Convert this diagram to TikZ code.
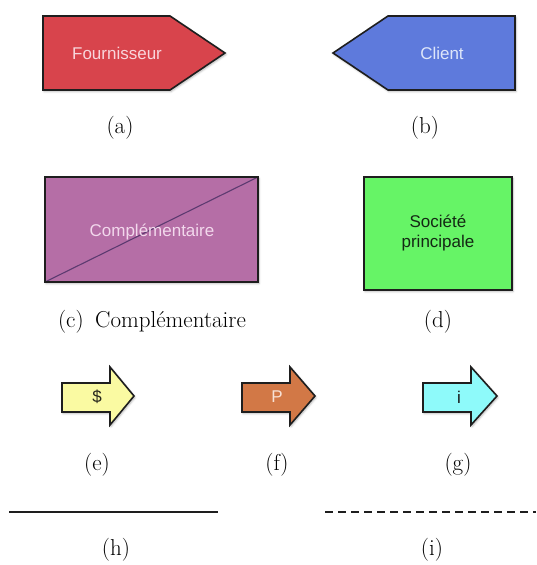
\documentclass[tikz,border=0pt]{standalone}
\usepackage{fontspec}
\newfontfamily\shapefont{Liberation Sans}
\usetikzlibrary{shadows.blur}
\definecolor{supplierred}{RGB}{216,68,76}
\definecolor{clientblue}{RGB}{94,122,220}
\definecolor{complpurple}{RGB}{181,110,166}
\definecolor{complline}{RGB}{92,58,112}
\definecolor{maingreen}{RGB}{102,244,102}
\definecolor{moneyyellow}{RGB}{250,250,162}
\definecolor{productorange}{RGB}{210,120,70}
\definecolor{infocyan}{RGB}{142,250,250}
\definecolor{outline}{RGB}{30,30,30}
\tikzset{
  shapebox/.style={draw=outline, line width=1.6pt, line join=miter,
    blur shadow={shadow xshift=1pt, shadow yshift=-1.5pt,
      shadow blur radius=2pt, shadow opacity=30}},
  boxtext/.style={font=\shapefont\fontsize{17}{20.5}\selectfont, align=center, inner sep=0pt},
  arrowtext/.style={font=\shapefont\fontsize{17}{20}\selectfont, inner sep=0pt},
  caption/.style={font=\fontsize{23}{27}\selectfont, inner sep=0pt},
  flowline/.style={line width=2.2pt, color=outline}
}
\begin{document}
\begin{tikzpicture}[x=1pt, y=-1pt]
\useasboundingbox (0,0) rectangle (536,565);

% (a) supplier pentagon pointing right
\fill[supplierred, shapebox] (43,16) -- (170,16) -- (225,53) -- (170,90) -- (43,90) -- cycle;
\node[boxtext, text={rgb,255:red,248;green,214;blue,220}] (supplier) at (117,53) {Fournisseur};
\node[caption] (capA) at (120,128) {(a)};

% (b) client pentagon pointing left
\fill[clientblue, shapebox] (333,53) -- (388,16) -- (515,16) -- (515,90) -- (388,90) -- cycle;
\node[boxtext, text={rgb,255:red,222;green,230;blue,250}] (client) at (442,53) {Client};
\node[caption] (capB) at (425,128) {(b)};

% (c) complementary company, crossed by a diagonal
\fill[complpurple, shapebox] (45,177) rectangle (258,282);
\draw[complline, line width=1.1pt] (45,282) -- (258,177);
\draw[outline, line width=1.6pt] (45,177) rectangle (258,282);
\node[boxtext, text={rgb,255:red,242;green,216;blue,236}] (compl) at (152,232) {Complémentaire};
\node[caption] (capC) at (152,322) {(c)\enspace Complémentaire};

% (d) main company
\fill[maingreen, shapebox] (364,177) rectangle (512,290);
\node[boxtext, text={rgb,255:red,20;green,40;blue,20}] (main) at (438,233) {Société\\principale};
\node[caption] (capD) at (438,322) {(d)};

% (e) money flow arrow
\fill[moneyyellow, shapebox] (62,383) -- (110,383) -- (110,367) -- (134,396) -- (110,425) -- (110,412) -- (62,412) -- cycle;
\node[arrowtext, text={rgb,255:red,40;green,40;blue,30}] (money) at (97,397) {\$};
\node[caption] (capE) at (97,465) {(e)};

% (f) product flow arrow
\fill[productorange, shapebox] (242,383) -- (290,383) -- (290,367) -- (315,396) -- (290,425) -- (290,412) -- (242,412) -- cycle;
\node[arrowtext, text={rgb,255:red,248;green,226;blue,214}] (product) at (277,397) {P};
\node[caption] (capF) at (277,465) {(f)};

% (g) information flow arrow
\fill[infocyan, shapebox] (423,383) -- (471,383) -- (471,367) -- (497,396) -- (471,425) -- (471,412) -- (423,412) -- cycle;
\node[arrowtext, text={rgb,255:red,20;green,20;blue,20}] (info) at (459,397) {i};
\node[caption] (capG) at (458,465) {(g)};

% (h) solid link, (i) dashed link
\coordinate (hA) at (9,512);
\coordinate (hB) at (218,512);
\draw[flowline] (hA) -- (hB);
\node[caption] (capH) at (116,550) {(h)};
\coordinate (iA) at (325,512);
\coordinate (iB) at (536,512);
\draw[flowline, dash pattern=on 8pt off 5pt] (iA) -- (iB);
\node[caption] (capI) at (432,550) {(i)};
\end{tikzpicture}
\end{document}
